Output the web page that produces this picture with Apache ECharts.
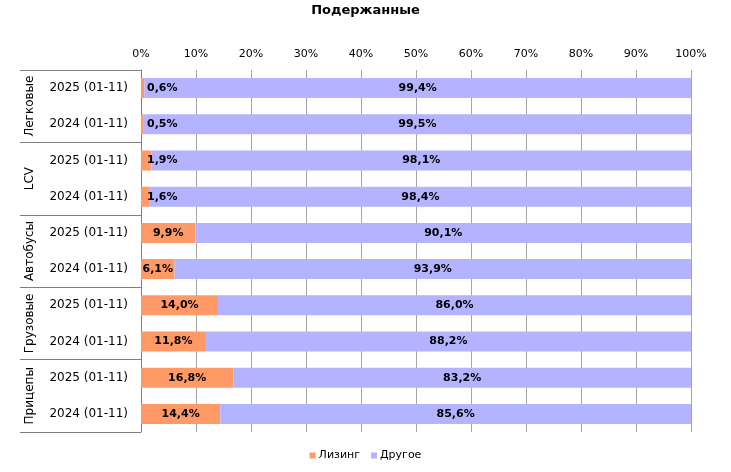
<!DOCTYPE html>
<html><head><meta charset="utf-8">
<script src="https://cdn.jsdelivr.net/npm/echarts@6/dist/echarts.min.js"></script>
<style>html,body{margin:0;padding:0;background:#fff}#c{width:731px;height:472px}</style>
</head><body><div id="c"></div>
<script>
const title = 'Подержанные';
const groups = ['Легковые', 'LCV', 'Автобусы', 'Грузовые', 'Прицепы'];
const rows = ['2025 (01-11)', '2024 (01-11)', '2025 (01-11)', '2024 (01-11)', '2025 (01-11)', '2024 (01-11)', '2025 (01-11)', '2024 (01-11)', '2025 (01-11)', '2024 (01-11)'];
const leasing = [0.6, 0.5, 1.9, 1.6, 9.9, 6.1, 14.0, 11.8, 16.8, 14.4];
const other = [99.4, 99.5, 98.1, 98.4, 90.1, 93.9, 86.0, 88.2, 83.2, 85.6];
const xTicks = [0, 10, 20, 30, 40, 50, 60, 70, 80, 90, 100];

const FONT = 'DejaVu Sans';
const fmt = v => v.toFixed(1).replace('.', ',') + '%';
const lblStyle = {show: true, color: '#000', fontWeight: 'bold', fontSize: 11, fontFamily: FONT,
  formatter: p => fmt(p.value)};

const chart = echarts.init(document.getElementById('c'), null, {renderer: 'canvas'});
chart.setOption({
  animation: false,
  textStyle: {fontFamily: FONT},
  title: {text: title, left: 'center', top: -1,
    textStyle: {fontFamily: FONT, fontSize: 13, fontWeight: 'bold', color: '#000'}},
  legend: {bottom: 6, left: 'center', icon: 'rect', itemWidth: 6, itemHeight: 6, itemGap: 11,
    textStyle: {fontFamily: FONT, fontSize: 11, color: '#000', padding: [0, 0, 0, -2]},
    data: ['Лизинг', 'Другое']},
  grid: {left: 141, right: 40, top: 70, bottom: 40, containLabel: false},
  xAxis: {type: 'value', position: 'top', min: xTicks[0], max: xTicks[xTicks.length - 1], interval: 10,
    axisLine: {show: false}, axisTick: {show: false},
    splitLine: {show: true, lineStyle: {color: '#a6a6a6', width: 1}},
    axisLabel: {formatter: '{value}%', fontSize: 11, fontFamily: FONT, color: '#000', margin: 10}},
  yAxis: [
    {type: 'category', inverse: true, data: rows,
      axisLine: {show: true, lineStyle: {color: '#808080'}},
      axisTick: {show: false},
      axisLabel: {fontSize: 12, fontFamily: FONT, color: '#000', margin: 13, interval: 0}},
    {type: 'category', inverse: true, position: 'left', data: groups,
      axisLine: {show: false},
      axisTick: {show: true, inside: false, length: 121, interval: 0, lineStyle: {color: '#808080'}},
      axisLabel: {fontSize: 12, fontFamily: FONT, color: '#000', rotate: 90, margin: 111, interval: 0,
        align: 'center', verticalAlign: 'middle'}}
  ],
  series: [
    {name: 'Лизинг', type: 'bar', stack: 's', yAxisIndex: 0, barWidth: 20,
      itemStyle: {color: '#FF9966'},
      label: Object.assign({position: 'inside'}, lblStyle),
      data: leasing.map(v => v < 5 ? {value: v, label: {position: 'insideLeft', distance: 6}} : v)},
    {name: 'Другое', type: 'bar', stack: 's', yAxisIndex: 0, barWidth: 20,
      itemStyle: {color: '#B3B3FF'},
      label: Object.assign({position: 'inside'}, lblStyle),
      data: other}
  ]
});
</script></body></html>
